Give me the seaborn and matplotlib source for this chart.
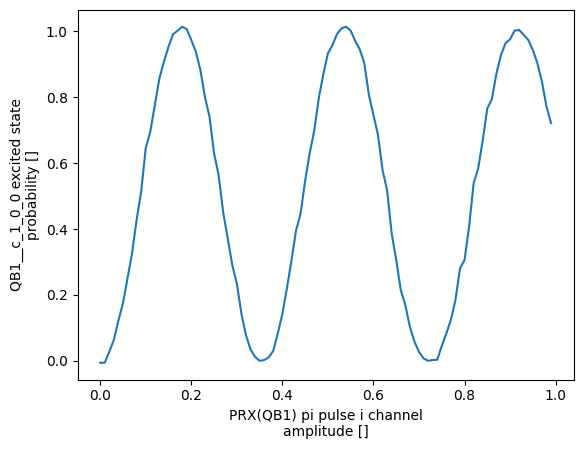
import matplotlib
matplotlib.use("Agg")
import matplotlib.pyplot as plt
import numpy as np
import pandas as pd
import seaborn as sns

# pulse amplitude sweep, 0.00 .. 0.99
amplitude = [round(0.01 * i, 2) for i in range(100)]

probability = [
    -0.006, -0.006, 0.027, 0.063, 0.122, 0.174, 0.250, 0.326, 0.427, 0.513,
    0.645, 0.695, 0.776, 0.857, 0.908, 0.953, 0.991, 1.002, 1.014, 1.007,
    0.974, 0.938, 0.883, 0.801, 0.741, 0.630, 0.564, 0.452, 0.372, 0.291,
    0.235, 0.144, 0.078, 0.035, 0.012, 0.000, 0.002, 0.010, 0.030, 0.083,
    0.142, 0.220, 0.304, 0.395, 0.447, 0.546, 0.630, 0.698, 0.797, 0.870,
    0.933, 0.958, 0.992, 1.009, 1.014, 1.002, 0.971, 0.945, 0.903, 0.807,
    0.746, 0.685, 0.579, 0.518, 0.387, 0.306, 0.215, 0.169, 0.103, 0.058,
    0.027, 0.007, 0.000, 0.002, 0.003, 0.045, 0.083, 0.124, 0.184, 0.280,
    0.306, 0.407, 0.539, 0.584, 0.670, 0.766, 0.794, 0.872, 0.928, 0.964,
    0.976, 1.002, 1.004, 0.989, 0.974, 0.943, 0.903, 0.847, 0.771, 0.721,
]

df = pd.DataFrame({"amplitude": amplitude, "probability": probability})

fig, ax = plt.subplots(figsize=(6.4, 4.8), dpi=100)
sns.lineplot(data=df, x="amplitude", y="probability", ax=ax, color="#1f77b4", linewidth=1.5)
ax.set_xlabel("PRX(QB1) pi pulse i channel\namplitude []")
ax.set_ylabel("QB1__c_1_0_0 excited state\nprobability []")
plt.savefig("out.png", dpi=100, bbox_inches="tight")
